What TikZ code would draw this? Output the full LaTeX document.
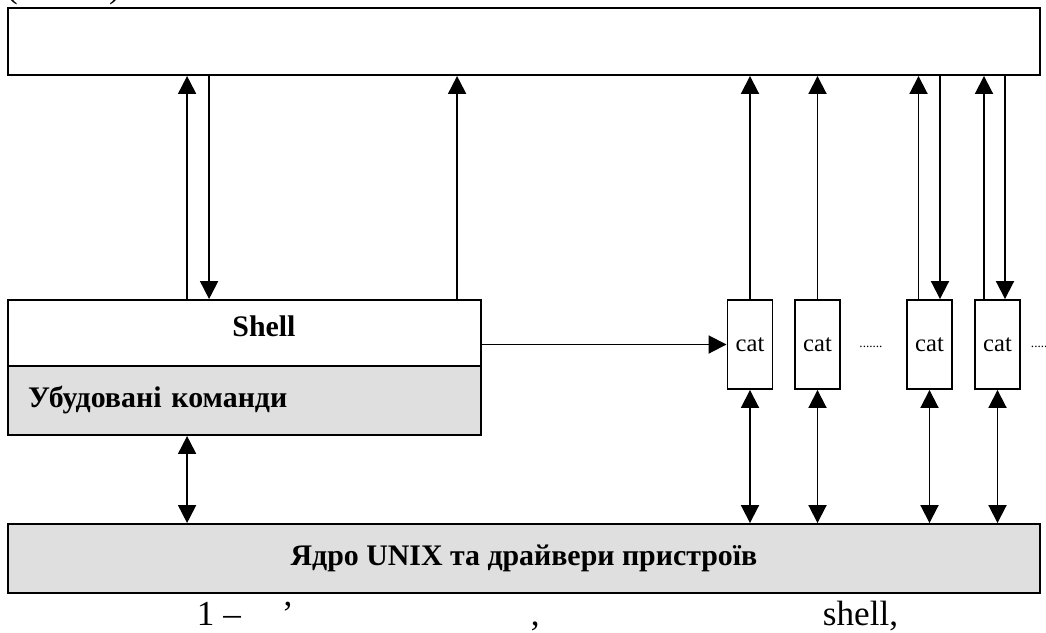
\documentclass[tikz,border=0pt]{standalone}
\usepackage{fontspec}
\setmainfont{Liberation Serif}
\usetikzlibrary{arrows.meta, calc, positioning}

\begin{document}
\begin{tikzpicture}[x=0.02cm, y=-0.02cm, line width=1.1pt, >={Triangle[width=0.36cm, length=0.36cm]}]%{{{
        \useasboundingbox (0, 0) rectangle (1046, 633);

        \tikzstyle{box} = [draw, rectangle, inner sep=0pt];
        \tikzstyle{shade} = [box, fill=gray!25];
        \tikzstyle{txt} = [font=\fontsize{17}{20}\selectfont\bfseries];
        \tikzstyle{captxt} = [anchor=base west, inner sep=0pt, font=\fontsize{20}{24}\selectfont];

        \node [box, minimum width=20.64cm, minimum height=1.34cm] (term) at (524, 41.5) { };

        \node [box, minimum width=9.46cm, minimum height=1.32cm] (shell) at (244.5, 333) { };
        \node [txt] (shelltxt) at (264, 326) {Shell};
        \node [shade, txt, minimum width=9.46cm, minimum height=1.38cm, text width=8.66cm,
               align=left, inner xsep=0.4cm] (builtin) at (244.5, 400.5) {Убудовані команди};

        \node [shade, txt, minimum width=20.64cm, minimum height=1.38cm] (kernel) at (524, 558.5)
            {Ядро UNIX та драйвери пристроїв};

        \foreach \n/\x in {1/750, 2/817.5, 3/929.5, 4/997.5}{
            \node [box, minimum width=0.9cm, minimum height=1.78cm,
                   font=\fontsize{14}{16}\selectfont] (cat\n) at (\x, 344.5) {cat};
        }

        \node [anchor=base, inner sep=0pt, font=\fontsize{7.5}{9}\selectfont] (dots1) at (871, 347) {.......};
        \node [anchor=base west, inner sep=0pt, font=\fontsize{7.5}{9}\selectfont] (dots2) at (1030, 347) {.....};

        % shell <-> terminal
        \coordinate (su1) at ($(shell.north west) + (180, 0)$);
        \coordinate (sd1) at ($(shell.north west) + (202, 0)$);
        \coordinate (su2) at ($(shell.north west) + (450, 0)$);
        \draw [->] (su1) -- (su1 |- term.south);
        \draw [->] (sd1 |- term.south) -- (sd1);
        \draw [->] (su2) -- (su2 |- term.south);

        \draw [->] (cat1.west -| shell.east) -- (cat1.west);

        % cat <-> terminal
        \foreach \n in {1, 2}{
            \draw [->] (cat\n.north) -- (cat\n.north |- term.south);
        }
        \foreach \n/\a/\b in {3/-11/10.5, 4/-13.5/7.5}{
            \coordinate (cu\n) at ($(cat\n.north) + (\a, 0)$);
            \coordinate (cd\n) at ($(cat\n.north) + (\b, 0)$);
            \draw [->] (cu\n) -- (cu\n |- term.south);
            \draw [->] (cd\n |- term.south) -- (cd\n);
        }

        % kernel
        \coordinate (bk) at ($(builtin.south west) + (180, 0)$);
        \draw [<->] (bk) -- (bk |- kernel.north);
        \foreach \n in {1, ..., 4}{
            \draw [<->] (cat\n.south) -- (cat\n.south |- kernel.north);
        }

        \node [anchor=base, inner sep=0pt, font=\fontsize{20}{24}\selectfont] (lpar) at (12, -3) {(};
        \node [anchor=base, inner sep=0pt, font=\fontsize{20}{24}\selectfont] (rpar) at (115, -3) {)};

        \node [captxt] (capnum) at (196, 625) {1 –};
        \node [captxt] (capapos) at (281, 625) {’};
        \node [captxt] (capcomma) at (530, 625) {,};
        \node [captxt] (capshell) at (822, 625) {shell,};
    \end{tikzpicture}
\end{document}
